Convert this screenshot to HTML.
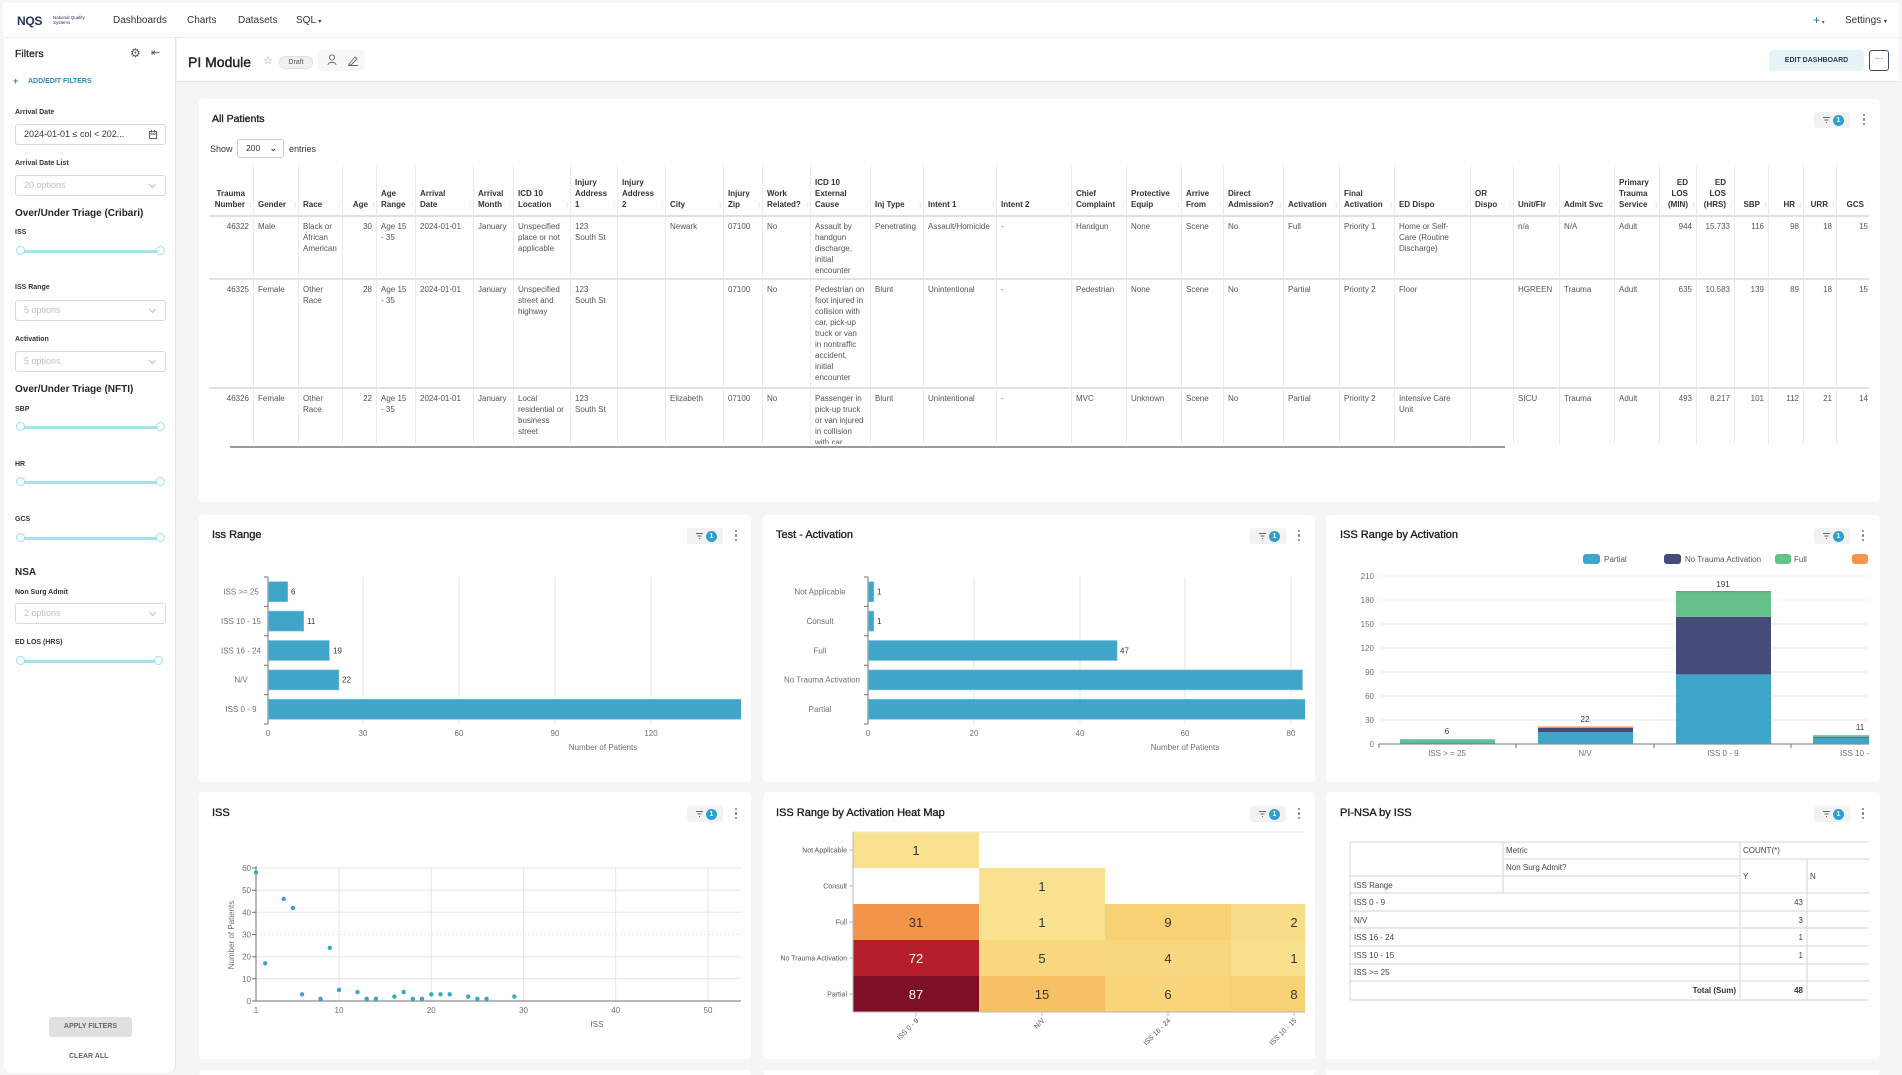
<!DOCTYPE html>
<html><head><meta charset="utf-8">
<style>
*{box-sizing:border-box;margin:0;padding:0}
html{width:1902px;height:1075px;overflow:hidden}
body{width:1902px;height:1075px;overflow:hidden;background:#f5f5f5;font-family:"Liberation Sans","DejaVu Sans",sans-serif;color:#333;position:relative}
svg path{fill:none}
.a{position:absolute}
.t{position:absolute;white-space:nowrap;line-height:1}
.card{position:absolute;background:#fff;border-radius:4px}
.title{position:absolute;white-space:nowrap;line-height:1;font-size:11px;color:#1f1f1f;-webkit-text-stroke:0.35px #1f1f1f}
.badge{position:absolute;width:36px;height:16px;background:#f2f2f2;border-radius:3px}
.badge .f{position:absolute;left:9px;top:5px;width:7px;height:6px}
.badge .c{position:absolute;left:19px;top:2.5px;width:11px;height:11px;border-radius:50%;background:#2f9fcf;color:#fff;font-size:7px;font-weight:bold;text-align:center;line-height:11px}
.dots{position:absolute;width:3px;height:12px}
.dots i{display:block;width:2.4px;height:2.4px;border-radius:50%;background:#7a7a7a;margin-bottom:2px}
.lbl{position:absolute;font-size:7px;font-weight:bold;color:#333;line-height:1;white-space:nowrap}
.hd{position:absolute;font-size:10px;font-weight:bold;color:#262626;line-height:1;white-space:nowrap}
.sel{position:absolute;left:15px;width:151px;height:21px;border:1px solid #d9d9d9;border-radius:3px;font-size:9px;color:#bfbfbf;line-height:19px;padding-left:8px}
.sel:after{content:"";position:absolute;right:10px;top:6px;width:4px;height:4px;border-right:1px solid #bbb;border-bottom:1px solid #bbb;transform:rotate(45deg)}
.sl{position:absolute;left:17px;width:147px;height:10px}
.sl .tr{position:absolute;left:3px;right:3px;top:3.5px;height:3px;background:#a6e2ec}
.sl .h{position:absolute;top:0;width:9px;height:9px;border-radius:50%;background:#fff;border:1.3px solid #9fdde8}
#dt{position:absolute;left:209px;top:165px;width:1660px;height:279px;overflow:hidden}
#dt table{border-collapse:separate;border-spacing:0;table-layout:fixed;width:1664px;font-size:8px}
#dt th{vertical-align:bottom;text-align:left;font-weight:bold;color:#333;line-height:11px;padding:0 8px 5px 4px;border-right:1px solid #ebebeb;border-bottom:2px solid #e0e0e0;position:relative;height:52px}
#dt th.r{text-align:right}
#dt th s{position:absolute;right:1px;bottom:6px;text-decoration:none;color:#cfcfcf;font-size:7px;font-weight:normal;line-height:1}
#dt td{vertical-align:top;color:#555;line-height:11px;padding:4px 4px 0 4px;border-right:1px solid #ebebeb;border-bottom:2px solid #e2e2e2;overflow:hidden;white-space:nowrap}
#dt td.r{text-align:right}
</style></head><body>

<!-- top nav -->
<div class="a" style="left:3px;top:3px;width:1896px;height:35px;background:#fff;border-bottom:1px solid #ececec"></div>
<div class="t" style="left:17px;top:15px;font-size:12px;font-weight:bold;color:#22335a;letter-spacing:-0.3px">NQS</div>
<div class="t" style="left:53px;top:15px;font-size:4.5px;color:#22335a;line-height:5px">National Quality<br>Systems</div>
<div class="t" style="left:113px;top:16px;font-size:10px;color:#333">Dashboards</div>
<div class="t" style="left:187px;top:16px;font-size:10px;color:#333">Charts</div>
<div class="t" style="left:238px;top:16px;font-size:10px;color:#333">Datasets</div>
<div class="t" style="left:296px;top:16px;font-size:10px;color:#333">SQL <span style="font-size:6px">▾</span></div>
<div class="t" style="left:1813px;top:14px;font-size:12px;color:#2a6fb5">+<span style="font-size:6px;color:#666"> ▾</span></div>
<div class="t" style="left:1845px;top:16px;font-size:10px;color:#333">Settings <span style="font-size:6px">▾</span></div>

<!-- sidebar -->
<div class="a" style="left:4px;top:38px;width:172px;height:1035px;background:#fff;border-right:1px solid #e6e6e6;border-radius:0 0 8px 8px"></div>
<div class="t" style="left:15px;top:49px;font-size:10.5px;color:#262626;-webkit-text-stroke:0.3px #262626">Filters</div>
<div class="t" style="left:130px;top:47px;font-size:12px;color:#555">⚙</div>
<div class="t" style="left:151px;top:48px;font-size:11px;color:#555">⇤</div>
<div class="t" style="left:13px;top:77px;font-size:9px;font-weight:bold;color:#2d86b3">+</div>
<div class="t" style="left:28px;top:78px;font-size:7px;font-weight:bold;color:#2d86b3">ADD/EDIT FILTERS</div>

<div class="lbl" style="left:15px;top:109px">Arrival Date</div>
<div class="a" style="left:15px;top:124px;width:151px;height:21px;border:1px solid #d9d9d9;border-radius:3px;font-size:9px;color:#333;line-height:19px;padding-left:8px;white-space:nowrap">2024-01-01 ≤ col &lt; 202...</div>
<svg class="a" style="left:149px;top:130px" width="8" height="9"><rect x="0.5" y="1.5" width="7" height="7" fill="none" stroke="#555" stroke-width="0.9"/><path d="M0.5 4H7.5M2.5 0V2.5M5.5 0V2.5" stroke="#555" stroke-width="0.9"/></svg>

<div class="lbl" style="left:15px;top:160px">Arrival Date List</div>
<div class="sel" style="top:175px">20 options</div>
<div class="hd" style="left:15px;top:209px">Over/Under Triage (Cribari)</div>
<div class="lbl" style="left:15px;top:229px">ISS</div>
<div class="sl" style="top:246px"><div class="tr"></div><div class="h" style="left:-1px"></div><div class="h" style="right:-1px"></div></div>
<div class="lbl" style="left:15px;top:284px">ISS Range</div>
<div class="sel" style="top:300px">5 options</div>
<div class="lbl" style="left:15px;top:336px">Activation</div>
<div class="sel" style="top:351px">5 options</div>
<div class="hd" style="left:15px;top:385px">Over/Under Triage (NFTI)</div>
<div class="lbl" style="left:15px;top:406px">SBP</div>
<div class="sl" style="top:422px"><div class="tr"></div><div class="h" style="left:-1px"></div><div class="h" style="right:-1px"></div></div>
<div class="lbl" style="left:15px;top:461px">HR</div>
<div class="sl" style="top:477px"><div class="tr"></div><div class="h" style="left:-1px"></div><div class="h" style="right:-1px"></div></div>
<div class="lbl" style="left:15px;top:516px">GCS</div>
<div class="sl" style="top:533px"><div class="tr"></div><div class="h" style="left:-1px"></div><div class="h" style="right:-1px"></div></div>
<div class="hd" style="left:15px;top:568px">NSA</div>
<div class="lbl" style="left:15px;top:589px">Non Surg Admit</div>
<div class="sel" style="top:603px">2 options</div>
<div class="lbl" style="left:15px;top:639px">ED LOS (HRS)</div>
<div class="sl" style="top:656px;width:145px"><div class="tr"></div><div class="h" style="left:-1px"></div><div class="h" style="right:-1px"></div></div>

<div class="a" style="left:49px;top:1017px;width:83px;height:20px;background:#e0e0e0;border-radius:3px;font-size:7px;font-weight:bold;color:#666;text-align:center;line-height:20px">APPLY FILTERS</div>
<div class="t" style="left:69px;top:1053px;font-size:7px;font-weight:bold;color:#666">CLEAR ALL</div>

<!-- header bar -->
<div class="a" style="left:177px;top:38px;width:1722px;height:44px;background:#fff;border-bottom:1px solid #e4e4e4"></div>
<div class="t" style="left:188px;top:55px;font-size:14px;color:#222;-webkit-text-stroke:0.4px #222">PI Module</div>
<div class="t" style="left:263px;top:56px;font-size:11px;color:#999">☆</div>
<div class="a" style="left:279px;top:56px;width:34px;height:13px;background:#f0f0f0;border:1px solid #e0e0e0;border-radius:7px;font-size:7px;color:#555;text-align:center;line-height:11px">Draft</div>
<div class="a" style="left:318px;top:50px;width:47px;height:21px;background:#f7f7f7;border-radius:3px"></div>
<svg class="a" style="left:327px;top:54px" width="34" height="12"><circle cx="5" cy="3.5" r="2.6" fill="none" stroke="#666" stroke-width="0.9"/><path d="M1 11C1 7.5 9 7.5 9 11" stroke="#666" stroke-width="0.9"/><path d="M22 10L28 3L30 5L24 11H22Z M21 11.5H31" stroke="#666" stroke-width="0.9"/></svg>
<div class="a" style="left:1769px;top:50px;width:95px;height:21px;background:#e6f4f8;border-radius:3px;font-size:7px;font-weight:bold;color:#2b3a55;text-align:center;line-height:21px">EDIT DASHBOARD</div>
<div class="a" style="left:1869px;top:50px;width:20px;height:21px;background:#fff;border:1px solid #3c4a70;border-radius:3px;font-size:8px;color:#333;text-align:center;line-height:15px">···</div>

<!-- All Patients card -->
<div class="card" style="left:199px;top:99px;width:1681px;height:403px"></div>
<div class="title" style="left:212px;top:114px;font-size:10.5px">All Patients</div>
<div class="badge" style="left:1814px;top:112px"><svg class="f" viewBox="0 0 7 6"><path d="M0 .5H7M1.5 3H5.5M3 5.5H4" stroke="#666" stroke-width="1"/></svg><div class="c">1</div></div>
<div class="dots" style="left:1863px;top:114px"><i></i><i></i><i></i></div>
<div class="t" style="left:210px;top:145px;font-size:9px;color:#333">Show</div>
<div class="a" style="left:237px;top:139px;width:47px;height:19px;border:1px solid #ccc;border-radius:3px;font-size:8.5px;color:#333;line-height:17px;padding-left:8px">200<span style="position:absolute;right:6px;top:0;font-size:9px;font-weight:bold">&#8964;</span></div>
<div class="t" style="left:289px;top:145px;font-size:9px;color:#333">entries</div>

<div id="dt"><table>
<colgroup>
<col style="width:45px"><col style="width:45px"><col style="width:44px"><col style="width:34px"><col style="width:39px"><col style="width:58px"><col style="width:40px"><col style="width:57px"><col style="width:47px"><col style="width:48px"><col style="width:58px"><col style="width:39px"><col style="width:48px"><col style="width:60px"><col style="width:53px"><col style="width:73px"><col style="width:75px"><col style="width:55px"><col style="width:55px"><col style="width:42px"><col style="width:60px"><col style="width:56px"><col style="width:55px"><col style="width:76px"><col style="width:43px"><col style="width:46px"><col style="width:55px"><col style="width:45px"><col style="width:37px"><col style="width:38px"><col style="width:34px"><col style="width:35px"><col style="width:33px"><col style="width:36px">
</colgroup>
<tr>
<th class="r">Trauma<br>Number<s>↕</s></th><th>Gender<s>↕</s></th><th>Race<s>↕</s></th><th class="r">Age<s>↕</s></th><th>Age<br>Range<s>↕</s></th><th>Arrival<br>Date<s>↕</s></th><th>Arrival<br>Month<s>↕</s></th><th>ICD 10<br>Location<s>↕</s></th><th>Injury<br>Address<br>1<s>↕</s></th><th>Injury<br>Address<br>2<s>↕</s></th><th>City<s>↕</s></th><th>Injury<br>Zip<s>↕</s></th><th>Work<br>Related?<s>↕</s></th><th>ICD 10<br>External<br>Cause<s>↕</s></th><th>Inj Type<s>↕</s></th><th>Intent 1<s>↕</s></th><th>Intent 2<s>↕</s></th><th>Chief<br>Complaint<s>↕</s></th><th>Protective<br>Equip<s>↕</s></th><th>Arrive<br>From<s>↕</s></th><th>Direct<br>Admission?<s>↕</s></th><th>Activation<s>↕</s></th><th>Final<br>Activation<s>↕</s></th><th>ED Dispo<s>↕</s></th><th>OR<br>Dispo<s>↕</s></th><th>Unit/Flr<s>↕</s></th><th>Admit Svc<s>↕</s></th><th>Primary<br>Trauma<br>Service<s>↕</s></th><th class="r">ED<br>LOS<br>(MIN)<s>↕</s></th><th class="r">ED<br>LOS<br>(HRS)<s>↕</s></th><th class="r">SBP<s>↕</s></th><th class="r">HR<s>↕</s></th><th class="r">URR<s>↕</s></th><th class="r">GCS<s>↕</s></th>
</tr>
<tr style="height:63px">
<td class="r">46322</td><td>Male</td><td>Black or<br>African<br>American</td><td class="r">30</td><td>Age 15<br>- 35</td><td>2024-01-01</td><td>January</td><td>Unspecified<br>place or not<br>applicable</td><td>123<br>South St</td><td></td><td>Newark</td><td>07100</td><td>No</td><td>Assault by<br>handgun<br>discharge,<br>initial<br>encounter</td><td>Penetrating</td><td>Assault/Homicide</td><td>-</td><td>Handgun</td><td>None</td><td>Scene</td><td>No</td><td>Full</td><td>Priority 1</td><td>Home or Self-<br>Care (Routine<br>Discharge)</td><td></td><td>n/a</td><td>N/A</td><td>Adult</td><td class="r">944</td><td class="r">15.733</td><td class="r">116</td><td class="r">98</td><td class="r">18</td><td class="r">15</td>
</tr>
<tr style="height:109px">
<td class="r">46325</td><td>Female</td><td>Other<br>Race</td><td class="r">28</td><td>Age 15<br>- 35</td><td>2024-01-01</td><td>January</td><td>Unspecified<br>street and<br>highway</td><td>123<br>South St</td><td></td><td></td><td>07100</td><td>No</td><td>Pedestrian on<br>foot injured in<br>collision with<br>car, pick-up<br>truck or van<br>in nontraffic<br>accident,<br>initial<br>encounter</td><td>Blunt</td><td>Unintentional</td><td>-</td><td>Pedestrian</td><td>None</td><td>Scene</td><td>No</td><td>Partial</td><td>Priority 2</td><td>Floor</td><td></td><td>HGREEN</td><td>Trauma</td><td>Adult</td><td class="r">635</td><td class="r">10.583</td><td class="r">139</td><td class="r">89</td><td class="r">18</td><td class="r">15</td>
</tr>
<tr style="height:100px">
<td class="r">46326</td><td>Female</td><td>Other<br>Race</td><td class="r">22</td><td>Age 15<br>- 35</td><td>2024-01-01</td><td>January</td><td>Local<br>residential or<br>business<br>street</td><td>123<br>South St</td><td></td><td>Elizabeth</td><td>07100</td><td>No</td><td>Passenger in<br>pick-up truck<br>or van injured<br>in collision<br>with car</td><td>Blunt</td><td>Unintentional</td><td>-</td><td>MVC</td><td>Unknown</td><td>Scene</td><td>No</td><td>Partial</td><td>Priority 2</td><td>Intensive Care<br>Unit</td><td></td><td>SICU</td><td>Trauma</td><td>Adult</td><td class="r">493</td><td class="r">8.217</td><td class="r">101</td><td class="r">112</td><td class="r">21</td><td class="r">14</td>
</tr>
</table></div>
<div class="a" style="left:230px;top:446px;width:1275px;height:2px;background:#9a9a9a"></div>

<!-- chart cards -->
<div class="card" style="left:199px;top:515px;width:552px;height:267px"></div>
<div class="card" style="left:763px;top:515px;width:552px;height:267px"></div>
<div class="card" style="left:1326px;top:515px;width:554px;height:267px"></div>
<div class="card" style="left:199px;top:792px;width:552px;height:267px"></div>
<div class="card" style="left:763px;top:792px;width:552px;height:267px"></div>
<div class="card" style="left:1326px;top:792px;width:554px;height:267px"></div>
<div class="card" style="left:199px;top:1070px;width:552px;height:5px"></div>
<div class="card" style="left:763px;top:1070px;width:552px;height:5px"></div>
<div class="card" style="left:1326px;top:1070px;width:554px;height:5px"></div>

<div class="title" style="left:212px;top:530px">Iss Range</div>
<div class="title" style="left:776px;top:530px">Test - Activation</div>
<div class="title" style="left:1340px;top:530px">ISS Range by Activation</div>
<div class="title" style="left:212px;top:808px">ISS</div>
<div class="title" style="left:776px;top:808px">ISS Range by Activation Heat Map</div>
<div class="title" style="left:1340px;top:808px">PI-NSA by ISS</div>

<div class="badge" style="left:687px;top:528px"><svg class="f" viewBox="0 0 7 6"><path d="M0 .5H7M1.5 3H5.5M3 5.5H4" stroke="#666" stroke-width="1"/></svg><div class="c">1</div></div>
<div class="dots" style="left:735px;top:530px"><i></i><i></i><i></i></div>
<div class="badge" style="left:1250px;top:528px"><svg class="f" viewBox="0 0 7 6"><path d="M0 .5H7M1.5 3H5.5M3 5.5H4" stroke="#666" stroke-width="1"/></svg><div class="c">1</div></div>
<div class="dots" style="left:1298px;top:530px"><i></i><i></i><i></i></div>
<div class="badge" style="left:1814px;top:528px"><svg class="f" viewBox="0 0 7 6"><path d="M0 .5H7M1.5 3H5.5M3 5.5H4" stroke="#666" stroke-width="1"/></svg><div class="c">1</div></div>
<div class="dots" style="left:1862px;top:530px"><i></i><i></i><i></i></div>
<div class="badge" style="left:687px;top:806px"><svg class="f" viewBox="0 0 7 6"><path d="M0 .5H7M1.5 3H5.5M3 5.5H4" stroke="#666" stroke-width="1"/></svg><div class="c">1</div></div>
<div class="dots" style="left:735px;top:808px"><i></i><i></i><i></i></div>
<div class="badge" style="left:1250px;top:806px"><svg class="f" viewBox="0 0 7 6"><path d="M0 .5H7M1.5 3H5.5M3 5.5H4" stroke="#666" stroke-width="1"/></svg><div class="c">1</div></div>
<div class="dots" style="left:1298px;top:808px"><i></i><i></i><i></i></div>
<div class="badge" style="left:1814px;top:806px"><svg class="f" viewBox="0 0 7 6"><path d="M0 .5H7M1.5 3H5.5M3 5.5H4" stroke="#666" stroke-width="1"/></svg><div class="c">1</div></div>
<div class="dots" style="left:1862px;top:808px"><i></i><i></i><i></i></div>

<svg class="a" style="left:0;top:0" width="1902" height="1075" font-family="Liberation Sans, sans-serif">
<defs>
<clipPath id="c1"><rect x="199" y="515" width="542" height="267"/></clipPath>
<clipPath id="c2"><rect x="763" y="515" width="542" height="267"/></clipPath>
<clipPath id="c3"><rect x="1326" y="515" width="543" height="267"/></clipPath>
<clipPath id="c5"><rect x="763" y="792" width="542" height="267"/></clipPath>
</defs>

<!-- Chart 1: Iss Range -->
<g clip-path="url(#c1)">
<path d="M363 577V724M459 577V724M555 577V724M651 577V724" stroke="#e0e6f1" stroke-width="1"/>
<path d="M268 577V724M264 577H268M264 606.4H268M264 635.8H268M264 665.2H268M264 694.6H268M264 724H268" stroke="#6e7079" stroke-width="1"/>
<g fill="#40a6c9" stroke="#7cc3dc" stroke-width="0.6">
<rect x="268.5" y="581.7" width="19.2" height="20"/>
<rect x="268.5" y="611.1" width="35.2" height="20"/>
<rect x="268.5" y="640.5" width="60.8" height="20"/>
<rect x="268.5" y="669.9" width="70.4" height="20"/>
<rect x="268.5" y="699.3" width="480" height="20"/>
</g>
<g font-size="8" fill="#333">
<text x="291" y="594.5">6</text><text x="307" y="623.9">11</text><text x="333" y="653.3">19</text><text x="342" y="682.7">22</text>
</g>
<g font-size="8" fill="#6e7079" text-anchor="middle">
<text x="241" y="594.5">ISS &gt;= 25</text><text x="241" y="623.9">ISS 10 - 15</text><text x="241" y="653.3">ISS 16 - 24</text><text x="241" y="682.7">N/V</text><text x="241" y="712.1">ISS 0 - 9</text>
<text x="268" y="736">0</text><text x="363" y="736">30</text><text x="459" y="736">60</text><text x="555" y="736">90</text><text x="651" y="736">120</text>
<text x="603" y="750">Number of Patients</text>
</g>
</g>

<!-- Chart 2: Test - Activation -->
<g clip-path="url(#c2)">
<path d="M974 577V724M1080 577V724M1185 577V724M1291 577V724" stroke="#e0e6f1" stroke-width="1"/>
<path d="M868 577V724M864 577H868M864 606.4H868M864 635.8H868M864 665.2H868M864 694.6H868M864 724H868" stroke="#6e7079" stroke-width="1"/>
<g fill="#40a6c9" stroke="#7cc3dc" stroke-width="0.6">
<rect x="868.5" y="581.7" width="5.3" height="20"/>
<rect x="868.5" y="611.1" width="5.3" height="20"/>
<rect x="868.5" y="640.5" width="248.6" height="20"/>
<rect x="868.5" y="669.9" width="434" height="20"/>
<rect x="868.5" y="699.3" width="480" height="20"/>
</g>
<g font-size="8" fill="#333">
<text x="877" y="594.5">1</text><text x="877" y="623.9">1</text><text x="1120" y="653.3">47</text>
</g>
<g font-size="8" fill="#6e7079" text-anchor="middle">
<text x="820" y="594.5">Not Applicable</text><text x="820" y="623.9">Consult</text><text x="820" y="653.3">Full</text><text x="822" y="682.7">No Trauma Activation</text><text x="820" y="712.1">Partial</text>
<text x="868" y="736">0</text><text x="974" y="736">20</text><text x="1080" y="736">40</text><text x="1185" y="736">60</text><text x="1291" y="736">80</text>
<text x="1185" y="750">Number of Patients</text>
</g>
</g>

<!-- Chart 3: stacked -->
<g clip-path="url(#c3)">
<g>
<rect x="1583" y="554" width="17" height="10" rx="3" fill="#40a6c9"/><text x="1604" y="562" font-size="8" fill="#555">Partial</text>
<rect x="1664" y="554" width="17" height="10" rx="3" fill="#454c79"/><text x="1685" y="562" font-size="8" fill="#555">No Trauma Activation</text>
<rect x="1775" y="554" width="16" height="10" rx="3" fill="#66c08a"/><text x="1794" y="562" font-size="8" fill="#555">Full</text>
<rect x="1852" y="554" width="16" height="10" rx="3" fill="#f7964a"/>
</g>
<path d="M1379 576H1869M1379 600H1869" stroke="#e0e6f1" stroke-width="1" stroke-dasharray="2 2"/>
<path d="M1379 624H1869M1379 648H1869M1379 672H1869M1379 696H1869M1379 720H1869" stroke="#e0e6f1" stroke-width="1"/>
<path d="M1379 744H1869M1379 744V748M1516 744V748M1654 744V748M1791 744V748" stroke="#6e7079" stroke-width="1"/>
<g font-size="8" fill="#6e7079" text-anchor="end">
<text x="1374" y="747">0</text><text x="1374" y="723">30</text><text x="1374" y="699">60</text><text x="1374" y="675">90</text><text x="1374" y="651">120</text><text x="1374" y="627">150</text><text x="1374" y="603">180</text><text x="1374" y="579">210</text>
</g>
<rect x="1400" y="742.4" width="95" height="1.6" fill="#40a6c9"/>
<rect x="1400" y="739.2" width="95" height="3.2" fill="#66c08a"/>
<rect x="1538" y="732" width="95" height="12" fill="#40a6c9"/>
<rect x="1538" y="728" width="95" height="4" fill="#454c79"/>
<rect x="1538" y="726.4" width="95" height="1.6" fill="#f7964a"/>
<rect x="1676" y="674.4" width="95" height="69.6" fill="#40a6c9"/>
<rect x="1676" y="616.8" width="95" height="57.6" fill="#454c79"/>
<rect x="1676" y="592" width="95" height="24.8" fill="#66c08a"/>
<rect x="1676" y="591" width="95" height="1.2" fill="#8a8a8a"/>
<rect x="1813" y="737.6" width="95" height="6.4" fill="#40a6c9"/>
<rect x="1813" y="736.8" width="95" height="0.8" fill="#454c79"/>
<rect x="1813" y="735.2" width="95" height="1.6" fill="#66c08a"/>
<g font-size="8" fill="#333" text-anchor="middle">
<text x="1447" y="734">6</text><text x="1585" y="722">22</text><text x="1723" y="587">191</text><text x="1860" y="730">11</text>
</g>
<g font-size="8" fill="#6e7079" text-anchor="middle">
<text x="1447" y="756">ISS &gt; = 25</text><text x="1585" y="756">N/V</text><text x="1723" y="756">ISS 0 - 9</text><text x="1860" y="756">ISS 10 - 15</text>
</g>
</g>

<!-- Chart 4: scatter -->
<g>
<path d="M256 868H741M256 890.2H741M256 912.3H741M256 956.7H741M256 978.8H741M339 868V1001M431.3 868V1001M523.5 868V1001M615.7 868V1001M708 868V1001" stroke="#e0e6f1" stroke-width="1"/>
<path d="M256 934.5H741" stroke="#e0e6f1" stroke-width="1" stroke-dasharray="2 2"/>
<path d="M256 866V1001H741M252 868H256M252 890.2H256M252 912.3H256M252 934.5H256M252 956.7H256M252 978.8H256M252 1001H256" stroke="#6e7079" stroke-width="1"/>
<g font-size="8" fill="#6e7079" text-anchor="end">
<text x="251" y="1004">0</text><text x="251" y="981.8">10</text><text x="251" y="959.7">20</text><text x="251" y="937.5">30</text><text x="251" y="915.3">40</text><text x="251" y="893.2">50</text><text x="251" y="871">60</text>
</g>
<g font-size="8" fill="#6e7079" text-anchor="middle">
<text x="256" y="1013">1</text><text x="339" y="1013">10</text><text x="431.3" y="1013">20</text><text x="523.5" y="1013">30</text><text x="615.7" y="1013">40</text><text x="708" y="1013">50</text>
<text x="597" y="1027">ISS</text>
<text x="0" y="0" transform="translate(234 935) rotate(-90)">Number of Patients</text>
</g>
<g fill="#3aa3c8">
<circle cx="256" cy="872.4" r="2.2"/><circle cx="265.2" cy="963.3" r="2.2"/><circle cx="283.7" cy="899" r="2.2"/><circle cx="292.9" cy="907.9" r="2.2"/><circle cx="302.1" cy="994.3" r="2.2"/><circle cx="320.6" cy="998.8" r="2.2"/><circle cx="329.8" cy="947.8" r="2.2"/><circle cx="339" cy="989.9" r="2.2"/><circle cx="357.5" cy="992.1" r="2.2"/><circle cx="366.7" cy="998.8" r="2.2"/><circle cx="375.9" cy="998.8" r="2.2"/><circle cx="394.4" cy="996.6" r="2.2"/><circle cx="403.6" cy="992.1" r="2.2"/><circle cx="412.8" cy="998.8" r="2.2"/><circle cx="422" cy="998.8" r="2.2"/><circle cx="431.3" cy="994.3" r="2.2"/><circle cx="440.5" cy="994.3" r="2.2"/><circle cx="449.7" cy="994.3" r="2.2"/><circle cx="468.2" cy="996.6" r="2.2"/><circle cx="477.4" cy="998.8" r="2.2"/><circle cx="486.6" cy="998.8" r="2.2"/><circle cx="514.3" cy="996.6" r="2.2"/>
</g>
</g>

<!-- Chart 5: heat map -->
<g clip-path="url(#c5)">
<rect x="853" y="832" width="126" height="36" fill="#f9e190"/>
<rect x="979" y="868" width="126" height="36" fill="#f9e190"/>
<rect x="853" y="904" width="126" height="36" fill="#f39549"/>
<rect x="979" y="904" width="126" height="36" fill="#f9e190"/>
<rect x="1105" y="904" width="126" height="36" fill="#f8d175"/>
<rect x="1231" y="904" width="126" height="36" fill="#f9dc87"/>
<rect x="853" y="940" width="126" height="36" fill="#b41f2a"/>
<rect x="979" y="940" width="126" height="36" fill="#f9d77f"/>
<rect x="1105" y="940" width="126" height="36" fill="#f8d87e"/>
<rect x="1231" y="940" width="126" height="36" fill="#fadf8d"/>
<rect x="853" y="976" width="126" height="36" fill="#7d0f27"/>
<rect x="979" y="976" width="126" height="36" fill="#f6c064"/>
<rect x="1105" y="976" width="126" height="36" fill="#f8d57a"/>
<rect x="1231" y="976" width="126" height="36" fill="#f7d275"/>
<path d="M853 832H1305" stroke="#e6e6e6" stroke-width="1"/>
<path d="M853 832V1012H1305" stroke="#b8b8b8" stroke-width="1"/>
<path d="M849 850H853M849 886H853M849 922H853M849 958H853M849 994H853M916 1012V1016M1042 1012V1016M1168 1012V1016M1294 1012V1016" stroke="#b8b8b8" stroke-width="1"/>
<g font-size="13" text-anchor="middle" fill="#333">
<text x="916" y="855">1</text>
<text x="1042" y="891">1</text>
<text x="916" y="927">31</text><text x="1042" y="927">1</text><text x="1168" y="927">9</text><text x="1294" y="927">2</text>
<text x="916" y="963" fill="#fff">72</text><text x="1042" y="963">5</text><text x="1168" y="963">4</text><text x="1294" y="963">1</text>
<text x="916" y="999" fill="#fff">87</text><text x="1042" y="999">15</text><text x="1168" y="999">6</text><text x="1294" y="999">8</text>
</g>
<g font-size="7" fill="#555" text-anchor="end">
<text x="847" y="852.5">Not Applicable</text><text x="847" y="888.5">Consult</text><text x="847" y="924.5">Full</text><text x="847" y="960.5">No Trauma Activation</text><text x="847" y="996.5">Partial</text>
<text x="919" y="1021" transform="rotate(-45 919 1021)">ISS 0 - 9</text>
<text x="1045" y="1021" transform="rotate(-45 1045 1021)">N/V</text>
<text x="1171" y="1021" transform="rotate(-45 1171 1021)">ISS 16 - 24</text>
<text x="1297" y="1021" transform="rotate(-45 1297 1021)">ISS 10 - 15</text>
</g>
</g>

<!-- Chart 6: PI-NSA table -->
<g stroke="#dcdcdc" stroke-width="1.2" fill="none">
<path d="M1350 842H1869M1503 859H1869M1350 876H1740M1350 893H1869M1350 911H1869M1350 928H1869M1350 946H1869M1350 964H1869M1350 981H1869M1350 1000H1869"/>
<path d="M1350 842V1000M1503 842V893M1740 842V1000M1807 859V1000"/>
</g>
<g font-size="8" fill="#444">
<text x="1506" y="853">Metric</text><text x="1743" y="853">COUNT(*)</text>
<text x="1506" y="870">Non Surg Admit?</text>
<text x="1743" y="879">Y</text><text x="1810" y="879">N</text>
<text x="1354" y="888">ISS Range</text>
<text x="1354" y="905">ISS 0 - 9</text><text x="1354" y="923">N/V</text><text x="1354" y="940">ISS 16 - 24</text><text x="1354" y="958">ISS 10 - 15</text><text x="1354" y="975">ISS &gt;= 25</text>
</g>
<g font-size="8" fill="#444" text-anchor="end">
<text x="1803" y="905">43</text><text x="1803" y="923">3</text><text x="1803" y="940">1</text><text x="1803" y="958">1</text>
<text x="1736" y="993" font-weight="bold" fill="#333">Total (Sum)</text><text x="1803" y="993" font-weight="bold" fill="#333">48</text>
</g>
</svg>
</body></html>
